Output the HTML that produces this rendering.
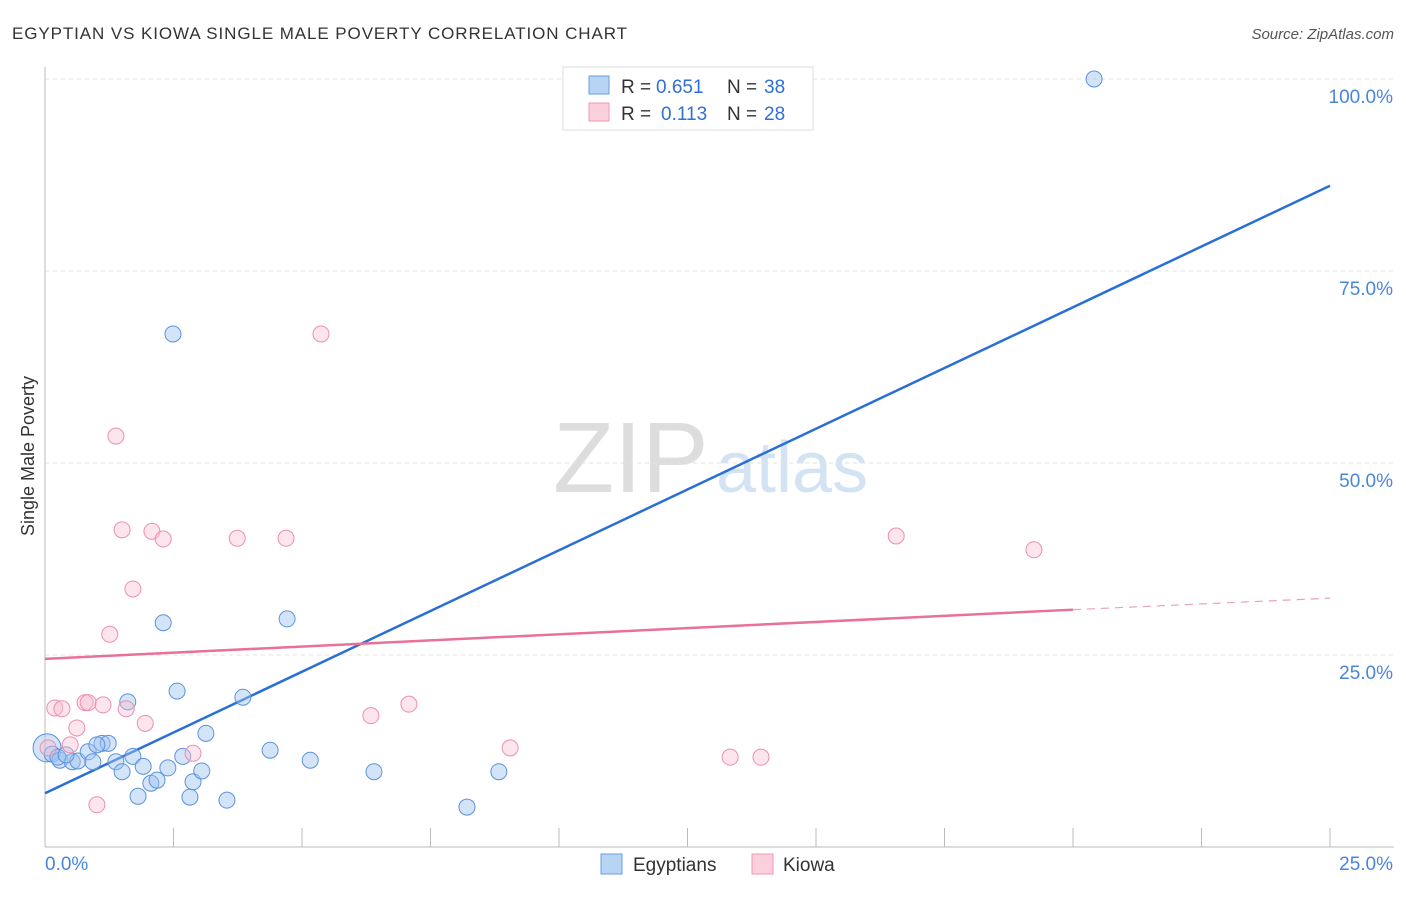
<!DOCTYPE html>
<html><head><meta charset="utf-8"><style>
body{margin:0;background:#fff;font-family:"Liberation Sans",sans-serif;}
svg text{font-family:"Liberation Sans",sans-serif;}
</style></head><body>
<svg width="1406" height="892" xmlns="http://www.w3.org/2000/svg" id="chart">
<text x="12" y="39" font-size="17" fill="#333" textLength="615">EGYPTIAN VS KIOWA SINGLE MALE POVERTY CORRELATION CHART</text>
<text x="1394" y="39" font-size="15" fill="#555" font-style="italic" text-anchor="end">Source: ZipAtlas.com</text>
<text x="34" y="456" font-size="18" fill="#333" transform="rotate(-90 34 456)" text-anchor="middle">Single Male Poverty</text>
<text x="553" y="492" font-size="100" fill="#ddd" font-family="Liberation Serif">ZIP</text>
<text x="716" y="492" font-size="72" fill="#d3e3f3">atlas</text>
<g id="grid"></g><g id="axes"></g><g id="lines"></g><g id="points"></g>
<g>
<rect x="563" y="67" width="250" height="63" fill="#fff" stroke="#ddd"/>
<rect x="589" y="76" width="20" height="18" fill="#b8d4f5" stroke="#6a9ee0"/>
<text x="621" y="93" font-size="19" fill="#333">R =</text>
<text x="656" y="93" font-size="19" fill="#2f6fd6">0.651</text>
<text x="727" y="93" font-size="19" fill="#333">N =</text>
<text x="764" y="93" font-size="19" fill="#2f6fd6">38</text>
<rect x="589" y="103" width="20" height="18" fill="#fbcfdc" stroke="#ef9ab4"/>
<text x="621" y="120" font-size="19" fill="#333">R =</text>
<text x="661" y="120" font-size="19" fill="#2f6fd6">0.113</text>
<text x="727" y="120" font-size="19" fill="#333">N =</text>
<text x="764" y="120" font-size="19" fill="#2f6fd6">28</text>
</g>
<g>
<rect x="601" y="854" width="21" height="20" fill="#b8d4f5" stroke="#6a9ee0"/>
<text x="633" y="871" font-size="19" fill="#333">Egyptians</text>
<rect x="752" y="854" width="21" height="20" fill="#fbcfdc" stroke="#ef9ab4"/>
<text x="783" y="871" font-size="19" fill="#333">Kiowa</text>
</g>
</svg>
<script>
const xTicksLabels=["0.0%","25.0%"];
const yTickVals=[25,50,75,100];
const yTickLabels=["25.0%","50.0%","75.0%","100.0%"];
const blueX=[0.04,0.14,0.29,0.53,0.64,0.84,0.93,1.11,1.23,1.38,1.50,1.61,1.71,1.81,1.91,2.06,2.18,2.39,2.49,2.30,2.57,2.68,2.82,2.88,3.05,3.13,3.54,3.85,4.38,4.71,5.16,6.40,8.21,8.83,20.41,0.25,0.41,1.01];
const blueY=[12.9,12.1,11.3,11.1,11.2,12.4,11.1,13.5,13.5,11.1,9.8,18.9,11.8,6.6,10.5,8.3,8.7,10.3,66.8,29.2,20.3,11.8,6.5,8.5,9.9,14.8,6.1,19.5,12.6,29.7,11.3,9.8,5.2,9.8,100,11.7,12.0,13.3];
const pinkX=[0.06,0.19,0.33,0.49,0.62,0.78,0.84,1.01,1.13,1.26,1.38,1.50,1.58,1.71,1.95,2.08,2.30,2.88,3.74,4.69,5.37,6.34,7.08,9.05,13.33,13.93,16.56,19.24];
const pinkY=[12.9,18.1,18.0,13.3,15.5,18.8,18.8,5.5,18.5,27.7,53.5,41.3,18.0,33.6,16.1,41.1,40.1,12.2,40.2,40.2,66.8,17.1,18.6,12.9,11.7,11.7,40.5,38.7];
const blueLine=[[0,7.0],[25,86.1]];
const pinkLine=[[0,24.5],[20,30.9],[25,32.4]];
const NS="http://www.w3.org/2000/svg";
const X=v=>45+v/25*1285, Y=v=>847-v*7.68;
function mk(tag,attrs,parent){const e=document.createElementNS(NS,tag);for(const k in attrs)e.setAttribute(k,attrs[k]);document.getElementById(parent).appendChild(e);return e;}
yTickVals.forEach((v,i)=>{
 const g=mk('line',{x1:45,x2:1394,y1:Y(v),y2:Y(v),stroke:'#e2e2e2','stroke-dasharray':'4 4'},'grid');
 
 
 const t=mk('text',{x:1393,y:Y(v)+24,'font-size':19,fill:'#4a86d8','text-anchor':'end'},'axes');
 t.textContent=yTickLabels[i];
 
 
});
const ya=mk('line',{x1:45,x2:45,y1:67,y2:847,stroke:'#bbb'},'axes');


const xa=mk('line',{x1:45,x2:1394,y1:847,y2:847,stroke:'#bbb'},'axes');


for(let i=0;i<=10;i++){const l=mk('line',{x1:X(i*2.5),x2:X(i*2.5),y1:828,y2:847,stroke:'#bbb'},'axes');
 
 }
[[0,'start',45],[25,'end',1393]].forEach((a,i)=>{const t=mk('text',{x:a[2],y:870,'font-size':19,fill:'#4a86d8','text-anchor':a[1]},'axes');t.textContent=xTicksLabels[i];
 
 });
blueX.forEach((x,i)=>{const c=mk('circle',{cx:X(x),cy:Y(blueY[i]),r:i===0?14:8,fill:'rgba(160,196,240,0.45)',stroke:'#5b93db','stroke-width':1},'points');
 
 });
pinkX.forEach((x,i)=>{const c=mk('circle',{cx:X(x),cy:Y(pinkY[i]),r:8,fill:'rgba(248,190,208,0.4)',stroke:'#ec8fae','stroke-width':1},'points');
 
 });
const bl=mk('line',{x1:X(blueLine[0][0]),y1:Y(blueLine[0][1]),x2:X(blueLine[1][0]),y2:Y(blueLine[1][1]),stroke:'#2a6fd6','stroke-width':2.5},'lines');


const pl=mk('line',{x1:X(pinkLine[0][0]),y1:Y(pinkLine[0][1]),x2:X(pinkLine[1][0]),y2:Y(pinkLine[1][1]),stroke:'#e8709a','stroke-width':2.5},'lines');


const pd=mk('line',{x1:X(pinkLine[1][0]),y1:Y(pinkLine[1][1]),x2:X(pinkLine[2][0]),y2:Y(pinkLine[2][1]),stroke:'#e8a0b8','stroke-width':1.2,'stroke-dasharray':'8 6'},'lines');


</script>
</body></html>
